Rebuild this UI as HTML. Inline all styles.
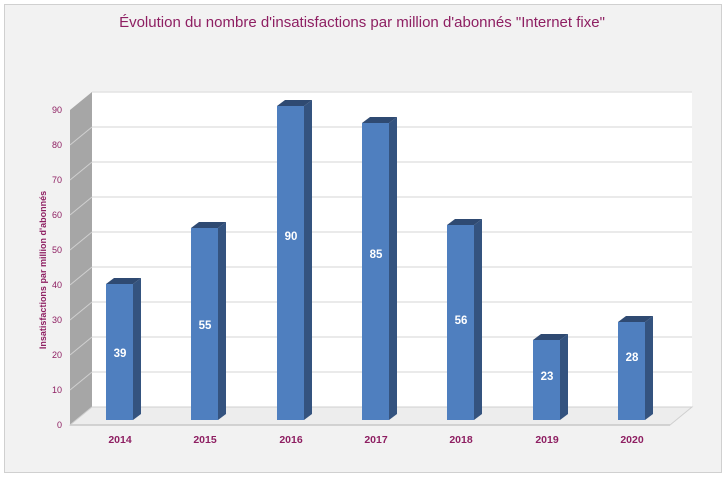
<!DOCTYPE html>
<html><head><meta charset="utf-8"><style>
body{margin:0;background:#fff;}
svg{display:block;font-family:"Liberation Sans",sans-serif;}
</style></head><body>
<svg width="725" height="477" viewBox="0 0 725 477">
<rect x="4.5" y="4.5" width="717" height="468" fill="#f2f2f2" stroke="#d0d0d0"/>
<text x="362" y="27" text-anchor="middle" font-size="15" fill="#8e1f62">Évolution du nombre d'insatisfactions par million d'abonnés "Internet fixe"</text>
<rect x="92" y="92" width="600" height="315" fill="#fff"/>
<g stroke="#e3e3e3" stroke-width="1.5">
<line x1="92" y1="127" x2="692" y2="127"/><line x1="92" y1="162" x2="692" y2="162"/>
<line x1="92" y1="197" x2="692" y2="197"/><line x1="92" y1="232" x2="692" y2="232"/>
<line x1="92" y1="267" x2="692" y2="267"/><line x1="92" y1="302" x2="692" y2="302"/>
<line x1="92" y1="337" x2="692" y2="337"/><line x1="92" y1="372" x2="692" y2="372"/>
<line x1="92" y1="92" x2="692" y2="92"/>
</g>
<polygon points="70,110 92,92 92,407 70,425" fill="#a6a6a6"/>
<g stroke="#d0d0d0" stroke-width="1">
<line x1="70" y1="145" x2="92" y2="127"/><line x1="70" y1="180" x2="92" y2="162"/>
<line x1="70" y1="215" x2="92" y2="197"/><line x1="70" y1="250" x2="92" y2="232"/>
<line x1="70" y1="285" x2="92" y2="267"/><line x1="70" y1="320" x2="92" y2="302"/>
<line x1="70" y1="355" x2="92" y2="337"/><line x1="70" y1="390" x2="92" y2="372"/>
</g>
<polygon points="70,425 92,407 692,407 670,425" fill="#ededed" stroke="#d0d0d0"/>
<line x1="70" y1="425" x2="670" y2="425" stroke="#c8c8c8" stroke-width="1.5"/>
<g font-size="9" fill="#8e1f62" text-anchor="end">
<text x="62" y="428">0</text><text x="62" y="393">10</text><text x="62" y="358">20</text>
<text x="62" y="323">30</text><text x="62" y="288">40</text><text x="62" y="253">50</text>
<text x="62" y="218">60</text><text x="62" y="183">70</text><text x="62" y="148">80</text><text x="62" y="113">90</text>
</g>
<text transform="translate(46,270) rotate(-90)" text-anchor="middle" font-size="9" font-weight="bold" fill="#8e1f62">Insatisfactions par million d'abonnés</text>

<g>
<polygon points="133,284 141,278 141,414 133,420" fill="#34537f"/><polygon points="106,284 114,278 141,278 133,284" fill="#2f4a72"/><rect x="106" y="284" width="27" height="136" fill="#4f7fbf"/>
<polygon points="218,228 226,222 226,414 218,420" fill="#34537f"/><polygon points="191,228 199,222 226,222 218,228" fill="#2f4a72"/><rect x="191" y="228" width="27" height="192" fill="#4f7fbf"/>
<polygon points="304,106 312,100 312,414 304,420" fill="#34537f"/><polygon points="277,106 285,100 312,100 304,106" fill="#2f4a72"/><rect x="277" y="106" width="27" height="314" fill="#4f7fbf"/>
<polygon points="389,123 397,117 397,414 389,420" fill="#34537f"/><polygon points="362,123 370,117 397,117 389,123" fill="#2f4a72"/><rect x="362" y="123" width="27" height="297" fill="#4f7fbf"/>
<polygon points="474,225 482,219 482,414 474,420" fill="#34537f"/><polygon points="447,225 455,219 482,219 474,225" fill="#2f4a72"/><rect x="447" y="225" width="27" height="195" fill="#4f7fbf"/>
<polygon points="560,340 568,334 568,414 560,420" fill="#34537f"/><polygon points="533,340 541,334 568,334 560,340" fill="#2f4a72"/><rect x="533" y="340" width="27" height="80" fill="#4f7fbf"/>
<polygon points="645,322 653,316 653,414 645,420" fill="#34537f"/><polygon points="618,322 626,316 653,316 645,322" fill="#2f4a72"/><rect x="618" y="322" width="27" height="98" fill="#4f7fbf"/>
</g>
<g font-size="11.5" font-weight="bold" fill="#fff" text-anchor="middle">
<text x="120" y="357">39</text><text x="205" y="329">55</text><text x="291" y="240">90</text>
<text x="376" y="258">85</text><text x="461" y="324">56</text><text x="547" y="380">23</text><text x="632" y="361">28</text>
</g>
<g font-size="10.5" font-weight="bold" fill="#8e1f62" text-anchor="middle">
<text x="120" y="443">2014</text><text x="205" y="443">2015</text><text x="291" y="443">2016</text>
<text x="376" y="443">2017</text><text x="461" y="443">2018</text><text x="547" y="443">2019</text><text x="632" y="443">2020</text>
</g>
</svg>
</body></html>
